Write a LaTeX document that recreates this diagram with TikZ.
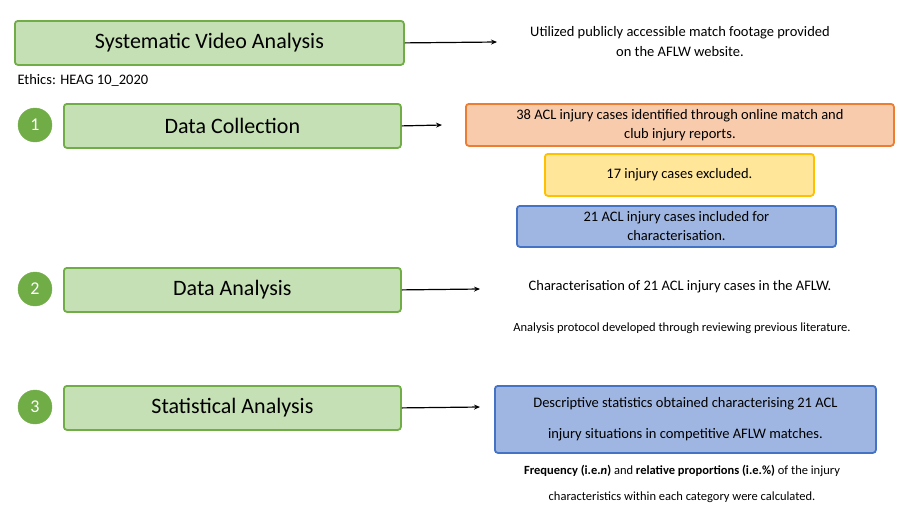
\documentclass[tikz,border=0pt]{standalone}
\usepackage{fontspec}
\setmainfont{Carlito}
\usetikzlibrary{arrows.meta}
\usetikzlibrary{positioning}
\definecolor{stepgreen}{RGB}{197, 224, 180}
\definecolor{stepline}{RGB}{112, 173, 71}
\definecolor{caseorange}{RGB}{248, 203, 173}
\definecolor{caseorangeline}{RGB}{237, 125, 49}
\definecolor{caseyellow}{RGB}{255, 230, 153}
\definecolor{caseyellowline}{RGB}{255, 192, 0}
\definecolor{caseblue}{RGB}{159, 182, 226}
\definecolor{caseblueline}{RGB}{68, 114, 196}
\tikzset{
  x=1pt, y=-1pt,
  stage/.style={draw=stepline, fill=stepgreen, line width=1.8pt, rounded corners=3pt,
    minimum height=44pt, font=\fontsize{22}{26}\selectfont, anchor=north west},
  num/.style={circle, fill=stepline, draw=stepline, minimum size=34pt, inner sep=0,
    text=white, font=\fontsize{18}{20}\selectfont},
  case/.style={line width=1.8pt, rounded corners=3pt, align=center,
    font=\fontsize{14.5}{19}\selectfont, anchor=north west},
  note/.style={align=center, font=\fontsize{14.5}{20}\selectfont},
  arrow/.style={-{Stealth[length=6pt,width=5pt]}, line width=1.2pt}
}
\begin{document}
\begin{tikzpicture}
\useasboundingbox (0,0) rectangle (902,512);

\node[stage, minimum width=389pt] (video) at (14,20) {Systematic Video Analysis};
\node[note] (footage) at (680,42) {Utilized publicly accessible match footage provided\\on the AFLW website.};
\draw[arrow] (video.east) -- (497,42) coordinate (footend);
\node[anchor=west, font=\fontsize{14.5}{17}\selectfont] (ethics) at (14,80) {Ethics: HEAG 10\_2020};

% step 1
\node[num] (one) at (35,125) {1};
\node[stage, minimum width=337pt] (collect) at (63,103) {Data Collection};
\node[case, draw=caseorangeline, fill=caseorange, minimum width=428pt, minimum height=42pt] (found) at (465,103) {38 ACL injury cases identified through online match and\\club injury reports.};
\draw[arrow] (collect.east) -- (442,125) coordinate (collectend);
\node[case, draw=caseyellowline, fill=caseyellow, minimum width=269pt, minimum height=42pt] (excl) at (544,153) {17 injury cases excluded.};
\node[case, draw=caseblueline, fill=caseblue, minimum width=319pt, minimum height=41pt] (incl) at (516,205) {21 ACL injury cases included for\\characterisation.};

% step 2
\node[num] (two) at (35,289) {2};
\node[stage, minimum width=337pt] (analysis) at (63,267) {Data Analysis};
\node[note] (charac) at (680,287) {Characterisation of 21 ACL injury cases in the AFLW.};
\draw[arrow] (analysis.east) -- (480,289) coordinate (analysisend);
\node[note, font=\fontsize{12.5}{16}\selectfont] (protocol) at (682,328) {Analysis protocol developed through reviewing previous literature.};

% step 3
\node[num] (three) at (35,407) {3};
\node[stage, minimum width=337pt] (stats) at (63,385) {Statistical Analysis};
\draw[arrow] (stats.east) -- (480,407) coordinate (statsend);
\node[case, draw=caseblueline, fill=caseblue, minimum width=381pt, minimum height=67pt,
  font=\fontsize{14.5}{31}\selectfont] (desc) at (494,385) {Descriptive statistics obtained characterising 21 ACL\\injury situations in competitive AFLW matches.};
\node[note, font=\fontsize{12.5}{26}\selectfont] (freq) at (682,484) {\textbf{Frequency (i.e.\textit{n})} and \textbf{relative proportions (i.e.\%)} of the injury\\characteristics within each category were calculated.};
\end{tikzpicture}
\end{document}
